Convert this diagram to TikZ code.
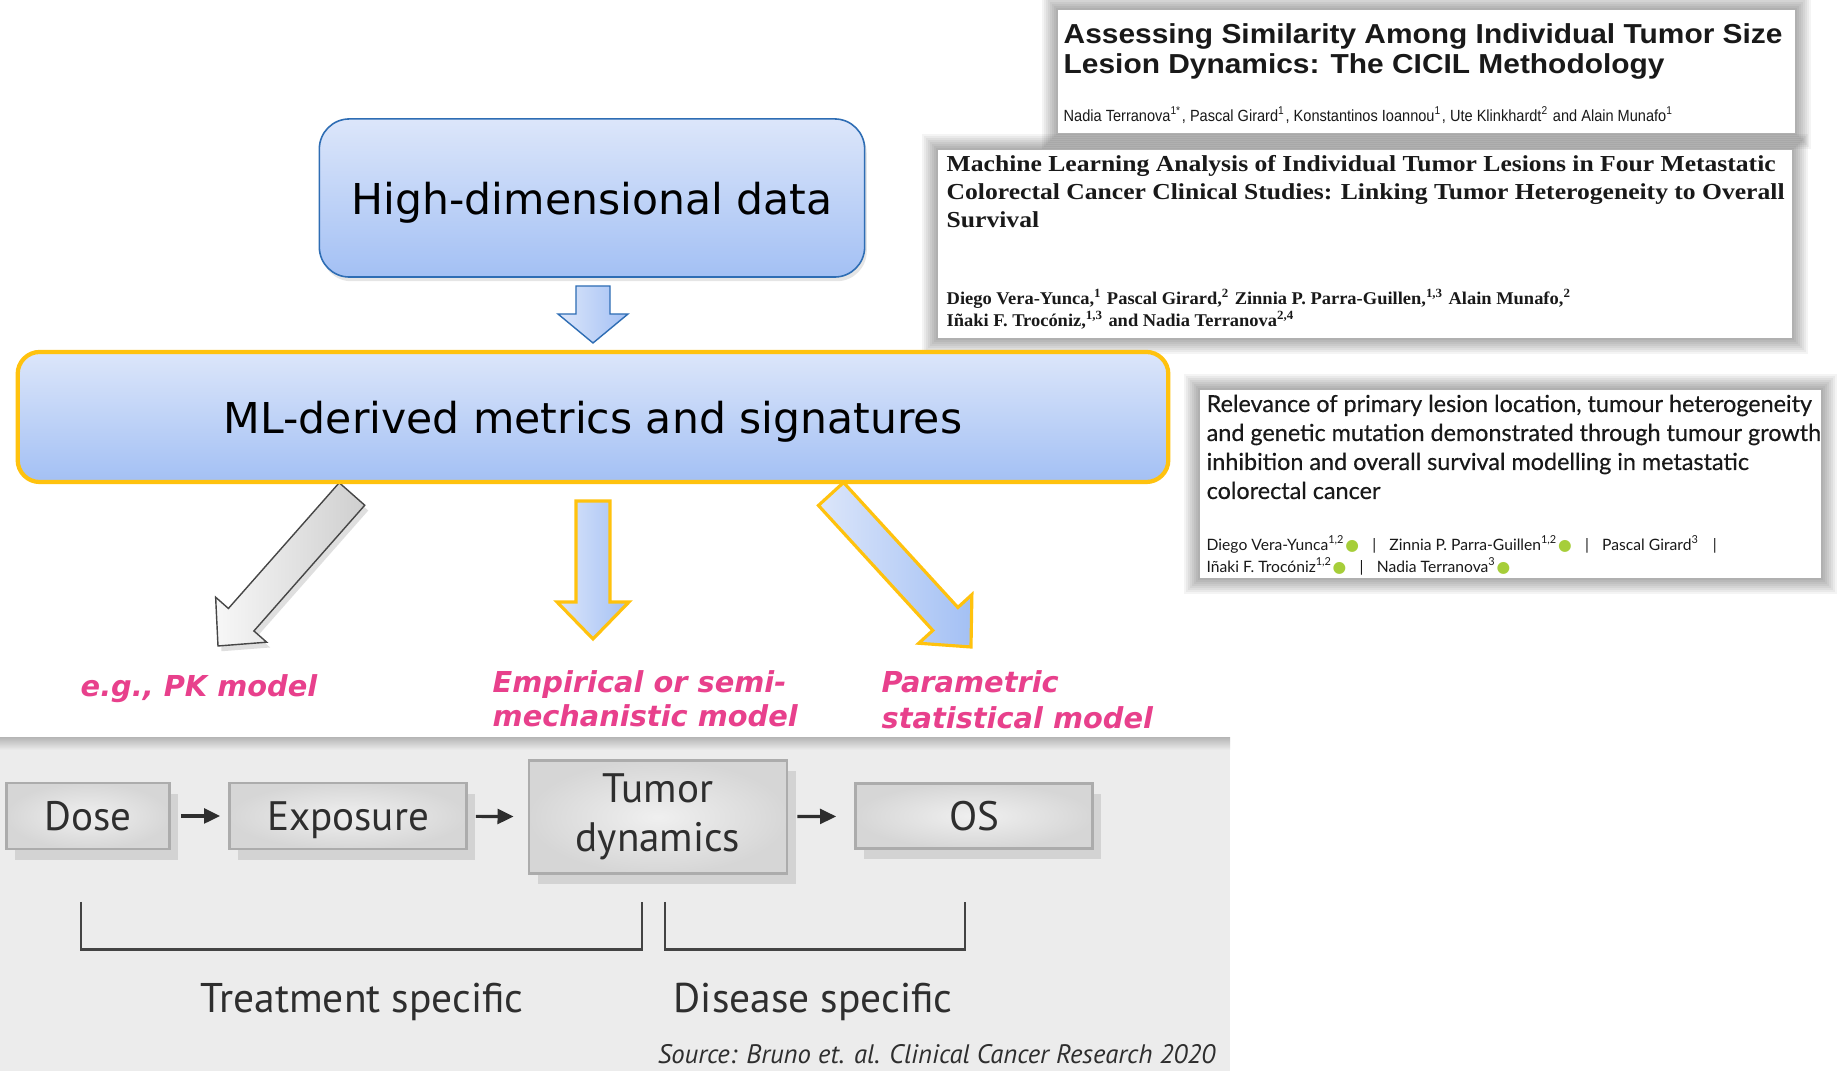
\documentclass[tikz,border=0pt]{standalone}
\usepackage{fontspec}
\setmainfont{DejaVu Sans}
\newfontfamily\stagefont{PT Sans}
\newfontfamily\aptitlefont{Liberation Sans}[FakeStretch=1.09]
\newfontfamily\apauthorfont{Liberation Sans}[FakeStretch=0.9]
\newfontfamily\cctitlefont{Liberation Serif}[FakeStretch=1.12]
\newfontfamily\ccauthorfont{Liberation Serif}[FakeStretch=1.03]
\newfontfamily\ejtitlefont{Lato}[FakeBold=0.4]
\newfontfamily\ejauthorfont{Lato}
\newfontfamily\dotfont{DejaVu Sans}
\usetikzlibrary{calc,shadows,arrows.meta}

\definecolor{boxblue}{HTML}{2E6DB4}
\definecolor{lightblue}{HTML}{DCE6FA}
\definecolor{midblue}{HTML}{A3C0F4}
\definecolor{gold}{HTML}{FFC20E}
\definecolor{pinklabel}{HTML}{E8408C}
\definecolor{panelgray}{HTML}{ECECEC}
\definecolor{stagetext}{HTML}{2E2E2E}
\definecolor{orcid}{HTML}{A6CE39}

% block arrow from tail #2 to tip #3: shaft half width #4, head half width #5, head length #6
\newcommand{\blockarrow}[6][]{%
  \coordinate (#2-base) at ($(#3)!#6!(#2)$);
  \path[#1] ($(#2)!#4!90:(#3)$) -- ($(#2-base)!#4!-90:(#2)$) -- ($(#2-base)!#5!-90:(#2)$)
    -- (#3) -- ($(#2-base)!#5!90:(#2)$) -- ($(#2-base)!#4!90:(#2)$) -- ($(#2)!#4!-90:(#3)$) -- cycle;}

% white page of a paper with a soft grey halo
\newcommand{\paperpage}[2]{%
  \foreach \k in {1,...,8}
    \fill[black, opacity=0.045] ($(#1)+(-2*\k,-2*\k)$) rectangle ($(#2)+(2*\k,2*\k)$);
  \fill[white] (#1) rectangle (#2);}

\newcommand{\orciddot}{{\dotfont\color{orcid}●}}
\newcommand{\authsep}{\hspace{0.85em}|\hspace{0.85em}}

\begin{document}
\begin{tikzpicture}[x=0.01cm, y=-0.01cm,
  bigbox/.style={top color=lightblue, bottom color=midblue, text=black, text depth=0pt,
    font=\fontsize{12.1}{14}\selectfont},
  hddbox/.style={bigbox, draw=boxblue, line width=0.45pt, rounded corners=0.3cm,
    drop shadow={opacity=0.2, shadow xshift=0.6pt, shadow yshift=-1.2pt}},
  mlbox/.style={bigbox, draw=gold, line width=1.2pt, rounded corners=0.22cm},
  grayarrow/.style={left color=gray!6, right color=gray!38, draw=gray!55!black, line width=0.4pt,
    drop shadow={opacity=0.25, shadow xshift=1pt, shadow yshift=-1.5pt}},
  goldarrow/.style={left color=lightblue, right color=midblue, draw=gold, line width=0.9pt},
  bluearrow/.style={left color=lightblue, right color=midblue, draw=boxblue, line width=0.4pt},
  modellabel/.style={text=pinklabel, anchor=base west, inner sep=0,
    font=\bfseries\itshape\fontsize{8.2}{9.5}\selectfont},
  stagebox/.style={draw=gray!65, line width=0.7pt, inner color=gray!12, outer color=gray!32,
    text=stagetext, font=\stagefont\fontsize{11.7}{13.9}\selectfont, align=center,
    drop shadow={opacity=0.18, shadow xshift=2.5pt, shadow yshift=-3pt, fill=gray!80!black}},
  singlestage/.style={stagebox, text depth=0pt},
  stagearrow/.style={-{Triangle[length=4.6pt, width=4.2pt]}, line width=0.9pt, draw=stagetext},
  bracket/.style={draw=stagetext!90, line width=0.85pt},
  bracketlabel/.style={text=stagetext, anchor=base, inner sep=0,
    font=\stagefont\fontsize{11.8}{13}\selectfont},
  aptitle/.style={anchor=base west, inner sep=0, text=black!90,
    font=\aptitlefont\bfseries\fontsize{7.8}{8.5}\selectfont},
  apauthor/.style={anchor=base west, inner sep=0, text=black!90,
    font=\apauthorfont\fontsize{4.6}{5.5}\selectfont},
  cctitle/.style={anchor=base west, inner sep=0, text=black!90,
    font=\cctitlefont\bfseries\fontsize{6.5}{8}\selectfont},
  ccauthor/.style={anchor=base west, inner sep=0, text=black!90,
    font=\ccauthorfont\bfseries\fontsize{5.1}{6.3}\selectfont},
  ejtitle/.style={anchor=base west, inner sep=0, text=black!90,
    font=\ejtitlefont\fontsize{6.65}{8.2}\selectfont},
  ejauthor/.style={anchor=base west, inner sep=0, text=black!90,
    font=\ejauthorfont\fontsize{4.45}{6.3}\selectfont}]

	\useasboundingbox (0,0) rectangle (1841,1071);
	\fill[white] (0,0) rectangle (1841,1071);

	%lower panel
	\fill[panelgray] (0,738) rectangle (1230,1071);
	\shade[top color=gray!55, bottom color=panelgray] (0,738) rectangle (1230,750);

	%papers
	\coordinate (p1-nw) at (1058,10);
	\coordinate (p1-se) at (1795,133);
	\paperpage{p1-nw}{p1-se}
	\foreach \txt [count=\i] in {{Assessing Similarity Among Individual Tumor Size},
		{Lesion Dynamics: The CICIL Methodology}}
		\node (p1title\i) [aptitle] at (1063,{14+30*\i}) {\txt};
	\node (p1authors) [apauthor] at (1063,122) {Nadia Terranova\textsuperscript{1*}, Pascal Girard\textsuperscript{1}, Konstantinos Ioannou\textsuperscript{1}, Ute Klinkhardt\textsuperscript{2} and Alain Munafo\textsuperscript{1}};

	\coordinate (p2-nw) at (938,150);
	\coordinate (p2-se) at (1792,338);
	\paperpage{p2-nw}{p2-se}
	\foreach \txt [count=\i] in {{Machine Learning Analysis of Individual Tumor Lesions in Four Metastatic},
		{Colorectal Cancer Clinical Studies: Linking Tumor Heterogeneity to Overall},
		{Survival}}
		\node (p2title\i) [cctitle] at (946,{144+28*\i}) {\txt};
	\node (p2authors1) [ccauthor] at (946,305) {Diego Vera-Yunca,\textsuperscript{1} Pascal Girard,\textsuperscript{2} Zinnia P. Parra-Guillen,\textsuperscript{1,3} Alain Munafo,\textsuperscript{2}};
	\node (p2authors2) [ccauthor] at (946,327) {Iñaki F. Trocóniz,\textsuperscript{1,3} and Nadia Terranova\textsuperscript{2,4}};

	\coordinate (p3-nw) at (1200,390);
	\coordinate (p3-se) at (1821,578);
	\paperpage{p3-nw}{p3-se}
	\foreach \txt [count=\i] in {{Relevance of primary lesion location, tumour heterogeneity},
		{and genetic mutation demonstrated through tumour growth},
		{inhibition and overall survival modelling in metastatic},
		{colorectal cancer}}
		\node (p3title\i) [ejtitle] at (1206,{383+29*\i}) {\txt};
	\node (p3authors1) [ejauthor] at (1206,551) {Diego Vera-Yunca\textsuperscript{1,2}\orciddot\authsep Zinnia P. Parra-Guillen\textsuperscript{1,2}\orciddot\authsep Pascal Girard\textsuperscript{3}\hspace{0.85em}|};
	\node (p3authors2) [ejauthor] at (1206,573) {Iñaki F. Trocóniz\textsuperscript{1,2}\orciddot\authsep Nadia Terranova\textsuperscript{3}\orciddot};

	%model arrows
	\coordinate (pkt) at (352,494);
	\coordinate (pkp) at (218,646);
	\coordinate (emt) at (593,501);
	\coordinate (emp) at (593,639);
	\coordinate (pat) at (831,494);
	\coordinate (pap) at (971,647);
	\blockarrow[grayarrow]{pkt}{pkp}{0.17cm}{0.34cm}{0.35cm}
	\blockarrow[goldarrow]{emt}{emp}{0.17cm}{0.36cm}{0.37cm}
	\blockarrow[goldarrow]{pat}{pap}{0.17cm}{0.36cm}{0.38cm}

	%boxes
	\node (hdd) [hddbox, minimum width=5.45cm, minimum height=1.58cm] at (592,198) {High-dimensional data};
	\node (ml) [mlbox, minimum width=11.5cm, minimum height=1.3cm] at (593,417) {ML-derived metrics and signatures};
	\coordinate (hddt) at (593,286);
	\coordinate (hddp) at (593,343);
	\blockarrow[bluearrow]{hddt}{hddp}{0.17cm}{0.35cm}{0.29cm}

	%model labels
	\node (pklabel) [modellabel] at (80,697) {e.g., PK model};
	\node (emlabel1) [modellabel] at (492,693) {Empirical or semi-};
	\node (emlabel2) [modellabel] at (492,727) {mechanistic model};
	\node (palabel1) [modellabel] at (881,693) {Parametric};
	\node (palabel2) [modellabel] at (881,729) {statistical model};

	%stages
	\node (dose) [singlestage, minimum width=1.63cm, minimum height=0.66cm] at (88,816) {Dose};
	\node (exposure) [singlestage, minimum width=2.37cm, minimum height=0.66cm] at (348,816) {Exposure};
	\node (tumor) [stagebox, minimum width=2.58cm, minimum height=1.13cm] at (658,817) {Tumor\\dynamics};
	\node (os) [singlestage, minimum width=2.37cm, minimum height=0.65cm] at (974,816) {OS};
	\draw[stagearrow, shorten <=0.1cm, shorten >=0.08cm] (dose) -- (exposure);
	\draw[stagearrow, shorten <=0.08cm, shorten >=0.14cm] (exposure) -- (tumor);
	\draw[stagearrow, shorten <=0.09cm, shorten >=0.18cm] (tumor) -- (os);

	%brackets
	\draw[bracket] (81,902) |- (642,950) -- (642,902);
	\draw[bracket] (665,902) |- (965,950) -- (965,902);
	\node (treatlabel) [bracketlabel] at (362,1013) {Treatment specific};
	\node (diseaselabel) [bracketlabel] at (813,1013) {Disease specific};

	%source
	\node (source) [anchor=base east, inner sep=0, text=stagetext,
		font=\stagefont\itshape\fontsize{7.6}{8}\selectfont] at (1216,1064)
		{Source: Bruno et. al. Clinical Cancer Research 2020};

\end{tikzpicture}
\end{document}
